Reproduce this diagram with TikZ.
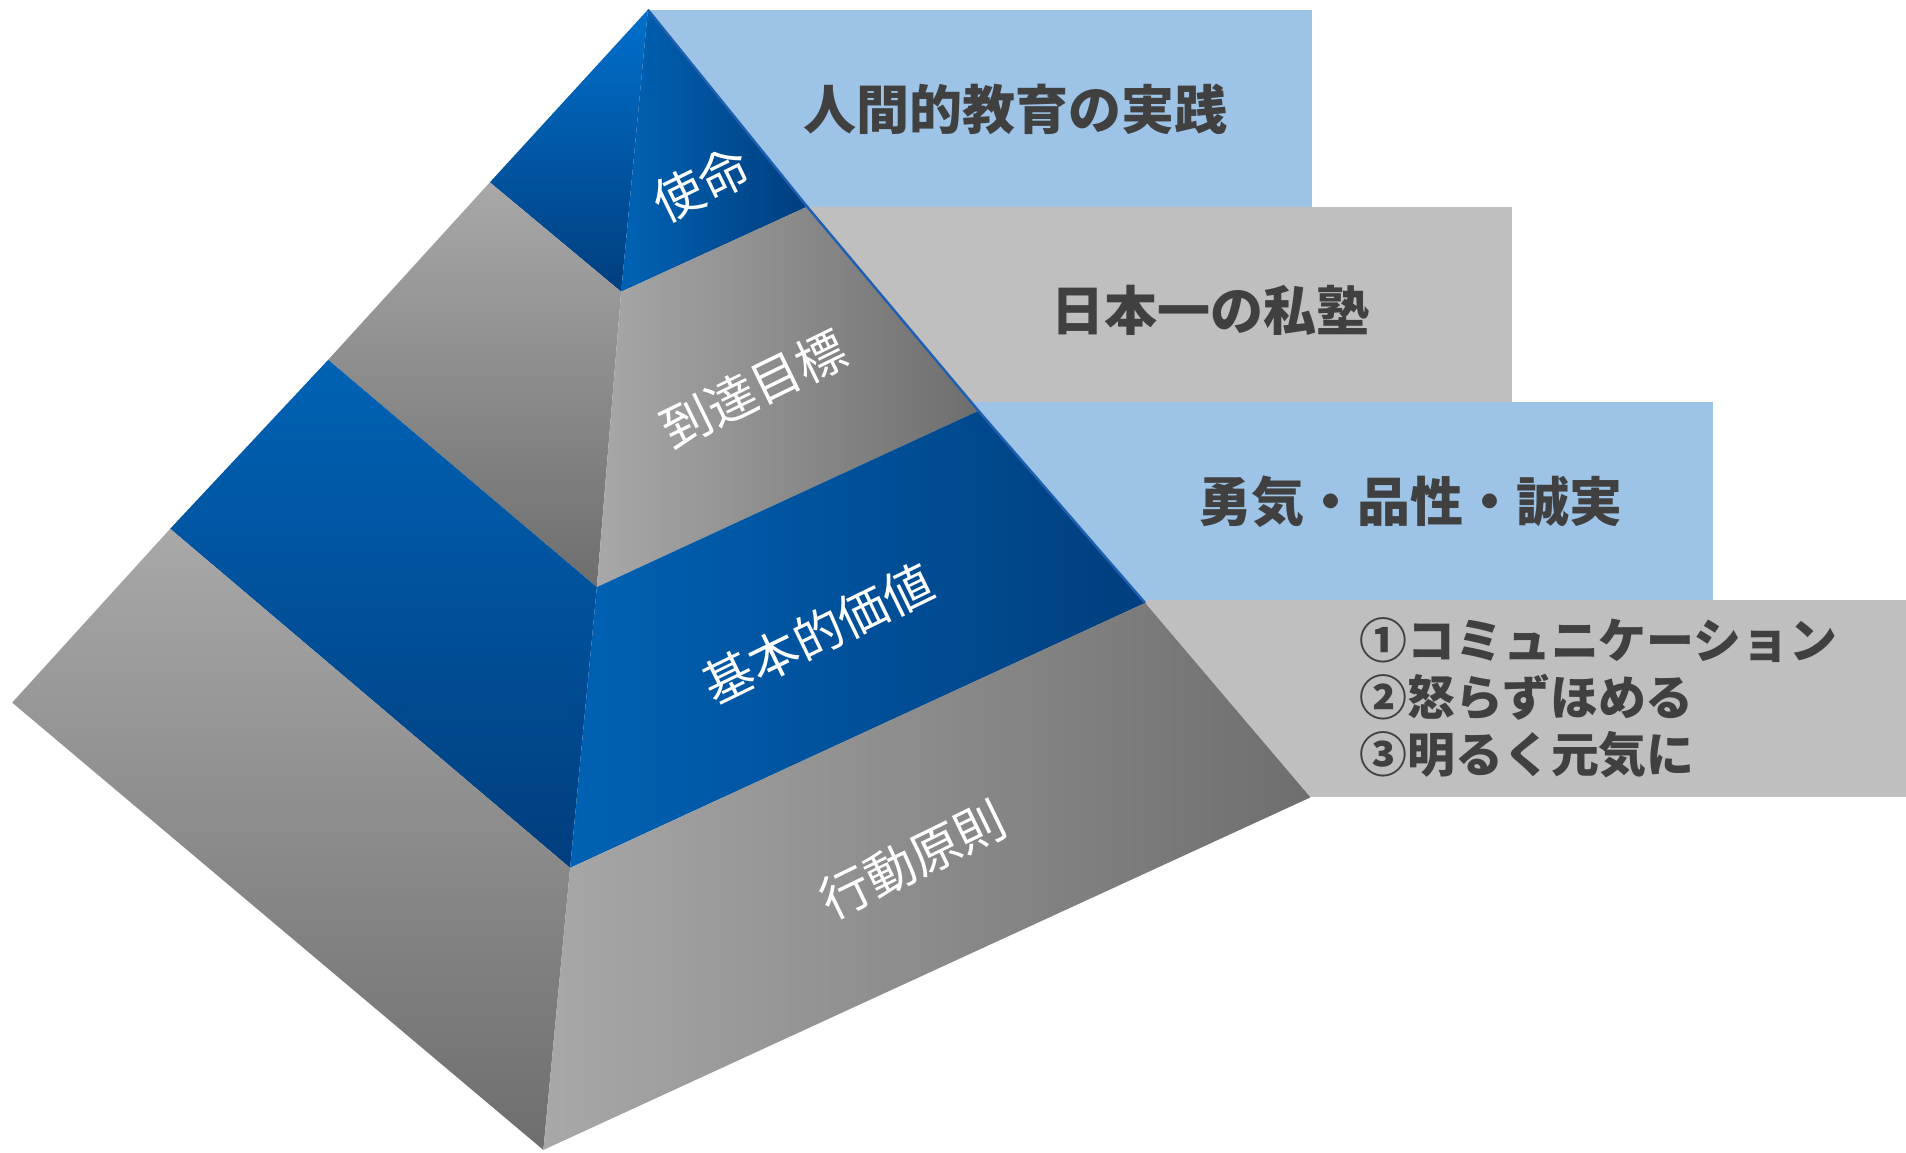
\documentclass[tikz,border=0pt]{standalone}
\usepackage{fontspec}
\newfontfamily\jp{Noto Sans CJK JP}
\definecolor{boxblue}{HTML}{9DC3E6}
\definecolor{boxgray}{HTML}{BFBFBF}
\definecolor{txtdark}{HTML}{404040}
\definecolor{bluelight}{HTML}{0070CC}
\definecolor{bluemid}{HTML}{0062B4}
\definecolor{bluedark}{HTML}{003E7E}
\definecolor{graylight}{HTML}{A8A8A8}
\definecolor{graydark}{HTML}{6E6E6E}
\definecolor{edgeblue}{HTML}{1E60B0}
\tikzset{
  boxtext/.style={text=txtdark, font=\jp\bfseries\fontsize{21.8}{26}\selectfont, inner sep=0pt},
  listtext/.style={text=txtdark, font=\jp\bfseries\fontsize{19.7}{23.5}\selectfont, align=left, inner sep=0pt},
  facetext/.style={text=white, font=\jp\fontsize{20.5}{24}\selectfont, rotate=26, inner sep=0pt},
  lblue/.style={top color=bluelight, bottom color=bluedark},
  lgray/.style={top color=graylight, bottom color=graydark},
  rblue/.style={left color=bluemid, right color=bluedark},
  rgray/.style={left color=graylight, right color=graydark}
}
\begin{document}
\begin{tikzpicture}[x=0.5pt,y=-0.5pt]
\useasboundingbox (0,0) rectangle (1568,948);
% key points
\coordinate (A) at (533,8);
\coordinate (L1) at (403,150);
\coordinate (L2) at (270,296);
\coordinate (L3) at (140,435);
\coordinate (L4) at (10,578);
\coordinate (R1) at (511,240);
\coordinate (R2) at (491,483);
\coordinate (R3) at (469,714);
\coordinate (R4) at (447,946);
\coordinate (E1) at (664,170);
\coordinate (E2) at (805,338);
\coordinate (E3) at (942,496);
\coordinate (E4) at (1078,656);
% boxes behind the pyramid
\fill[boxblue] (533,8) rectangle (1079,170);
\fill[boxgray] (520,170) rectangle (1244,331);
\fill[boxblue] (520,331) rectangle (1409,494);
\fill[boxgray] (520,494) rectangle (1568,656);
% left faces
\shade[lblue] (A) -- (L1) -- (R1) -- cycle;
\shade[lgray] (L1) -- (L2) -- (R2) -- (R1) -- cycle;
\shade[top color=bluemid, bottom color=bluedark] (L2) -- (L3) -- (R3) -- (R2) -- cycle;
\shade[lgray] (L3) -- (L4) -- (R4) -- (R3) -- cycle;
% right faces
\shade[rblue] (A) -- (R1) -- (E1) -- cycle;
\shade[rgray] (R1) -- (R2) -- (E2) -- (E1) -- cycle;
\shade[rblue] (R2) -- (R3) -- (E3) -- (E2) -- cycle;
\shade[rgray] (R3) -- (R4) -- (E4) -- (E3) -- cycle;
\draw[edgeblue, line width=1pt] (A) -- (E1) -- (E2) -- (E3);
% face labels
\node[facetext] (m1) at (577,152) {使命};
\node[facetext] (m2) at (620,320) {到達目標};
\node[facetext] (m3) at (673,521) {基本的価値};
\node[facetext] (m4) at (751,707) {行動原則};
% box texts
\node[boxtext] (t1) at (835,90) {人間的教育の実践};
\node[boxtext] (t2) at (996,255) {日本一の私塾};
\node[boxtext] (t3) at (1160,413) {勇気・品性・誠実};
\node[listtext, anchor=west] (t4) at (1118,574) {①コミュニケーション\\②怒らずほめる\\③明るく元気に};
\end{tikzpicture}
\end{document}
